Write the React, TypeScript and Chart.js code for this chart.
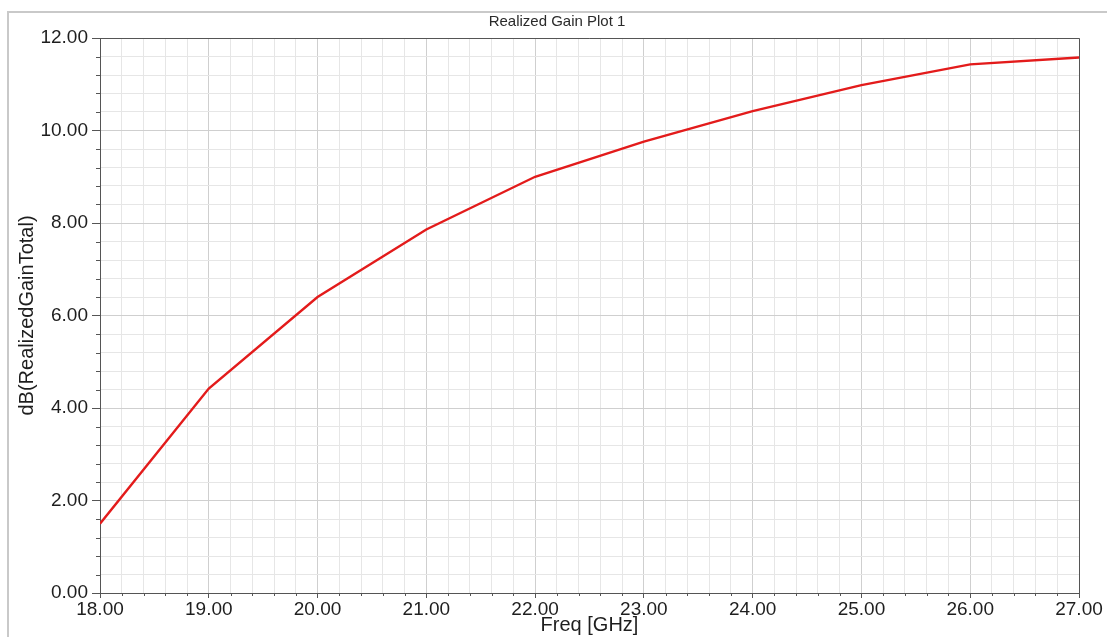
import React, { useEffect, useRef } from "react";
import { Chart, registerables } from "chart.js";

Chart.register(...registerables);

const TITLE = "Realized Gain Plot 1";
const X_TITLE = "Freq [GHz]";
const Y_TITLE = "dB(RealizedGainTotal)";
const freqGHz = [18, 19, 20, 21, 22, 23, 24, 25, 26, 27];
const gainDb = [1.5, 4.42, 6.4, 7.86, 9.0, 9.76, 10.42, 10.98, 11.43, 11.58];
const X_MIN = 18;
const X_MAX = 27;
const X_STEP = 0.2;
const Y_MIN = 0;
const Y_MAX = 12;
const Y_STEP = 0.4;
const X_MAJOR = 1;
const Y_MAJOR = 2;

const FONT = '"Liberation Sans", Arial, sans-serif';

const isMajor = (v: number, m: number) => Math.abs(v / m - Math.round(v / m)) < 1e-6;

const decor = {
  id: "decor",
  beforeDraw(chart: any) {
    const ctx = chart.ctx;
    ctx.save();
    ctx.fillStyle = "#ffffff";
    ctx.fillRect(0, 0, chart.width, chart.height);
    ctx.strokeStyle = "#c9c9c9";
    ctx.lineWidth = 2;
    ctx.beginPath();
    ctx.moveTo(8, chart.height);
    ctx.lineTo(8, 12);
    ctx.lineTo(chart.width, 12);
    ctx.stroke();
    ctx.fillStyle = "#2a2a2a";
    ctx.font = "15px " + FONT;
    ctx.textAlign = "center";
    ctx.textBaseline = "middle";
    ctx.fillText(TITLE, 557, 22);
    ctx.restore();
  },
  afterDraw(chart: any) {
    const ctx = chart.ctx;
    const { left, right, top, bottom } = chart.chartArea;
    const xs = chart.scales.x;
    const ys = chart.scales.y;
    ctx.save();
    ctx.strokeStyle = "#555555";
    ctx.lineWidth = 1;
    ctx.beginPath();
    xs.ticks.forEach((t: any) => {
      if (!isMajor(t.value, X_MAJOR)) {
        const px = Math.round(xs.getPixelForValue(t.value)) + 0.5;
        ctx.moveTo(px, bottom);
        ctx.lineTo(px, bottom + 3);
      }
    });
    ys.ticks.forEach((t: any) => {
      if (!isMajor(t.value, Y_MAJOR)) {
        const py = Math.round(ys.getPixelForValue(t.value)) + 0.5;
        ctx.moveTo(left - 4, py);
        ctx.lineTo(left, py);
      }
    });
    ctx.stroke();
    ctx.beginPath();
    ctx.moveTo(left, top + 0.5);
    ctx.lineTo(right + 0.5, top + 0.5);
    ctx.lineTo(right + 0.5, bottom);
    ctx.stroke();
    ctx.restore();
  },
};

export default function App() {
  const ref = useRef<HTMLCanvasElement | null>(null);
  useEffect(() => {
    if (!ref.current) return;
    const chart = new Chart(ref.current, {
      type: "line",
      data: {
        datasets: [
          {
            data: freqGHz.map((f, i) => ({ x: f, y: gainDb[i] })),
            borderColor: "#e31b1b",
            borderWidth: 2.4,
            pointRadius: 0,
            tension: 0,
            fill: false,
          },
        ],
      },
      options: {
        animation: false,
        responsive: false,
        events: [],
        layout: { padding: { left: 15, top: 38, right: 28, bottom: 0 } },
        plugins: { legend: { display: false }, tooltip: { enabled: false }, title: { display: false } },
        scales: {
          x: {
            type: "linear",
            min: X_MIN,
            max: X_MAX,
            afterFit(s: any) {
              s.height = 44;
            },
            ticks: {
              stepSize: X_STEP,
              autoSkip: false,
              maxRotation: 0,
              padding: 0,
              color: "#1e1e1e",
              font: { family: FONT, size: 19 },
              callback: (v: any) => (isMajor(Number(v), X_MAJOR) ? Number(v).toFixed(2) : ""),
            },
            grid: {
              color: (c: any) => (isMajor(c.tick.value, X_MAJOR) ? "#cfcfcf" : "#e6e6e6"),
              tickColor: (c: any) => (isMajor(c.tick.value, X_MAJOR) ? "#555555" : "rgba(0,0,0,0)"),
              tickLength: 5,
            },
            border: { color: "#555555", width: 1 },
            title: {
              display: true,
              text: X_TITLE,
              color: "#1e1e1e",
              font: { family: FONT, size: 20 },
              padding: { top: 0, bottom: 0 },
            },
          },
          y: {
            type: "linear",
            min: Y_MIN,
            max: Y_MAX,
            afterFit(s: any) {
              s.width = 85;
            },
            ticks: {
              stepSize: Y_STEP,
              autoSkip: false,
              padding: 4,
              color: "#1e1e1e",
              font: { family: FONT, size: 19 },
              callback: (v: any) => (isMajor(Number(v), Y_MAJOR) ? Number(v).toFixed(2) : ""),
            },
            grid: {
              color: (c: any) => (isMajor(c.tick.value, Y_MAJOR) ? "#cfcfcf" : "#e6e6e6"),
              tickColor: (c: any) => (isMajor(c.tick.value, Y_MAJOR) ? "#555555" : "rgba(0,0,0,0)"),
              tickLength: 8,
            },
            border: { color: "#555555", width: 1 },
            title: {
              display: true,
              text: Y_TITLE,
              color: "#1e1e1e",
              font: { family: FONT, size: 20 },
              padding: { top: 0, bottom: 0 },
            },
          },
        },
      },
      plugins: [decor],
    });
    return () => chart.destroy();
  }, []);
  return (
    <div style={{ position: "absolute", left: 0, top: 0, width: 1107, height: 637 }}>
      <canvas ref={ref} width={1107} height={637} />
    </div>
  );
}
